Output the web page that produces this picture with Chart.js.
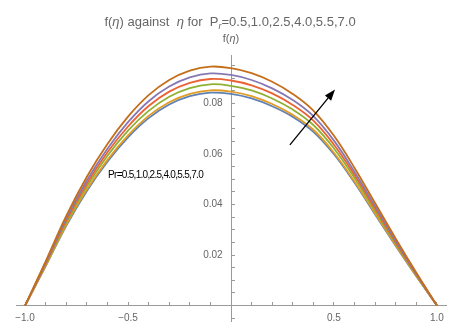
<!DOCTYPE html>
<html lang="en">
<head>
    <meta charset="UTF-8">
    <title>f(η) against η</title>
    <script src="https://cdn.jsdelivr.net/npm/chart.js"></script>
    <style>
        body {
            margin: 0;
            padding: 0;
            background-color: #ffffff;
        }

        .chart-container {
            width: 456px;
            height: 322px;
            position: relative;
        }
    </style>
</head>
<body>
    <div class="chart-container">
        <canvas id="etaChart"></canvas>
    </div>

    <script>
        // eta values (x axis) and f(eta) for each Pr
        const eta = [-1, -0.9, -0.8, -0.7, -0.6, -0.5, -0.4, -0.3, -0.2, -0.1, 0, 0.1, 0.2, 0.3, 0.4, 0.5, 0.6, 0.7, 0.8, 0.9, 1];
        const pr05 = [0, 0.0156, 0.0316, 0.0454, 0.0570, 0.0666, 0.0742, 0.0796, 0.0829, 0.0843, 0.0838, 0.0820, 0.0789, 0.0747, 0.0688, 0.0599, 0.0486, 0.0361, 0.0236, 0.0116, 0];
        const pr10 = [0, 0.0158, 0.0320, 0.0460, 0.0577, 0.0674, 0.0751, 0.0805, 0.0838, 0.0852, 0.0847, 0.0829, 0.0798, 0.0755, 0.0696, 0.0605, 0.0491, 0.0365, 0.0239, 0.0117, 0];
        const pr25 = [0, 0.0162, 0.0329, 0.0472, 0.0593, 0.0693, 0.0771, 0.0827, 0.0861, 0.0876, 0.0870, 0.0852, 0.0820, 0.0776, 0.0715, 0.0622, 0.0505, 0.0375, 0.0245, 0.0120, 0];
        const pr40 = [0, 0.0166, 0.0337, 0.0483, 0.0607, 0.0709, 0.0790, 0.0847, 0.0882, 0.0897, 0.0891, 0.0872, 0.0840, 0.0794, 0.0732, 0.0637, 0.0517, 0.0384, 0.0251, 0.0123, 0];
        const pr55 = [0, 0.0170, 0.0345, 0.0495, 0.0621, 0.0726, 0.0809, 0.0867, 0.0903, 0.0919, 0.0913, 0.0893, 0.0860, 0.0814, 0.0750, 0.0653, 0.0529, 0.0393, 0.0257, 0.0126, 0];
        const pr70 = [0, 0.0175, 0.0355, 0.0510, 0.0640, 0.0748, 0.0833, 0.0893, 0.0930, 0.0946, 0.0940, 0.0920, 0.0886, 0.0838, 0.0772, 0.0672, 0.0545, 0.0405, 0.0265, 0.0130, 0];
        const prNames = ['0.5', '1.0', '2.5', '4.0', '5.5', '7.0'];

        // tick values and labels
        const xTickValues = [-1, -0.9, -0.8, -0.7, -0.6, -0.5, -0.4, -0.3, -0.2, -0.1, 0.1, 0.2, 0.3, 0.4, 0.5, 0.6, 0.7, 0.8, 0.9, 1];
        const xLabelValues = [-1, -0.5, 0.5, 1];
        const xLabelTexts = ['\u22121.0', '\u22120.5', '0.5', '1.0'];
        const yTickValues = [-0.005, 0.005, 0.01, 0.015, 0.02, 0.025, 0.03, 0.035, 0.04, 0.045, 0.05, 0.055, 0.06, 0.065, 0.07, 0.075, 0.08, 0.085, 0.09, 0.095];
        const yLabelValues = [0.02, 0.04, 0.06, 0.08];
        const yLabelTexts = ['0.02', '0.04', '0.06', '0.08'];

        // Mathematica default colours
        const colors = ['#5E81B5', '#E19C24', '#8FB032', '#EB6235', '#8778B3', '#C56E1A'];
        const series = [pr05, pr10, pr25, pr40, pr55, pr70];

        const datasets = series.map((values, index) => ({
            label: 'Pr=' + prNames[index],
            data: eta.map((x, i) => ({ x: x, y: values[i] })),
            borderColor: colors[index],
            backgroundColor: colors[index],
            borderWidth: 1.8,
            pointRadius: 0,
            fill: false,
            tension: 0.4,
            order: series.length - index
        }));

        function findLabel(values, texts, v) {
            for (let i = 0; i < values.length; i++) {
                if (Math.abs(values[i] - v) < 1e-9) return texts[i];
            }
            return '';
        }

        // title, axis label, annotation and arrow
        const extras = {
            id: 'extras',
            afterDraw(chart) {
                const ctx = chart.ctx;
                const xs = chart.scales.x, ys = chart.scales.y;
                ctx.save();

                // title with italic eta and subscript r
                const parts = [
                    { t: 'f(', f: '13px "Liberation Sans"' },
                    { t: '\u03b7', f: 'italic 13px "Liberation Sans"' },
                    { t: ') against  ', f: '13px "Liberation Sans"' },
                    { t: '\u03b7', f: 'italic 13px "Liberation Sans"' },
                    { t: ' for  P', f: '13px "Liberation Sans"' },
                    { t: 'r', f: 'italic 9px "Liberation Sans"', dy: 3 },
                    { t: '=0.5,1.0,2.5,4.0,5.5,7.0', f: '13px "Liberation Sans"' }
                ];
                let total = 0;
                parts.forEach(p => { ctx.font = p.f; p.w = ctx.measureText(p.t).width; total += p.w; });
                let x = 230 - total / 2;
                ctx.fillStyle = '#666';
                ctx.textBaseline = 'alphabetic';
                ctx.textAlign = 'left';
                parts.forEach(p => {
                    ctx.font = p.f;
                    ctx.fillText(p.t, x, 26 + (p.dy || 0));
                    x += p.w;
                });

                // y axis label
                const yl = [
                    { t: 'f(', f: '11px "Liberation Sans"' },
                    { t: '\u03b7', f: 'italic 11px "Liberation Sans"' },
                    { t: ')', f: '11px "Liberation Sans"' }
                ];
                total = 0;
                yl.forEach(p => { ctx.font = p.f; p.w = ctx.measureText(p.t).width; total += p.w; });
                x = xs.getPixelForValue(0) - total / 2;
                yl.forEach(p => {
                    ctx.font = p.f;
                    ctx.fillText(p.t, x, 42);
                    x += p.w;
                });

                // annotation text
                ctx.fillStyle = '#000';
                ctx.font = '10px "Liberation Sans"';
                ctx.letterSpacing = '-0.7px';
                ctx.fillText('Pr=' + prNames.join(','), xs.getPixelForValue(-0.597), ys.getPixelForValue(0.0505));
                ctx.letterSpacing = '0px';

                // arrow
                const x1 = xs.getPixelForValue(0.286), y1 = ys.getPixelForValue(0.0636);
                const x2 = xs.getPixelForValue(0.505), y2 = ys.getPixelForValue(0.0855);
                const ang = Math.atan2(y2 - y1, x2 - x1);
                const head = 11, half = 4;
                ctx.strokeStyle = '#000';
                ctx.lineWidth = 1.3;
                ctx.beginPath();
                ctx.moveTo(x1, y1);
                ctx.lineTo(x2 - head * Math.cos(ang), y2 - head * Math.sin(ang));
                ctx.stroke();
                ctx.beginPath();
                ctx.moveTo(x2, y2);
                ctx.lineTo(x2 - head * Math.cos(ang) + half * Math.sin(ang), y2 - head * Math.sin(ang) - half * Math.cos(ang));
                ctx.lineTo(x2 - head * Math.cos(ang) - half * Math.sin(ang), y2 - head * Math.sin(ang) + half * Math.cos(ang));
                ctx.closePath();
                ctx.fillStyle = '#000';
                ctx.fill();
                ctx.restore();
            }
        };

        const ctx = document.getElementById('etaChart').getContext('2d');
        const etaChart = new Chart(ctx, {
            type: 'line',
            data: { datasets: datasets },
            options: {
                responsive: true,
                maintainAspectRatio: false,
                animation: false,
                layout: {
                    padding: { top: 55, left: 16, right: 10, bottom: 1 }
                },
                scales: {
                    x: {
                        type: 'linear',
                        min: -1.044,
                        max: 1.044,
                        position: { y: 0 },
                        afterBuildTicks: (scale) => { scale.ticks = xTickValues.map(v => ({ value: v })); },
                        border: { color: '#999', width: 1 },
                        // negative length: tick marks point up into the plot
                        grid: { drawOnChartArea: false, drawTicks: true, tickLength: -4, color: '#999' },
                        ticks: {
                            autoSkip: false,
                            maxRotation: 0,
                            padding: 11,
                            color: '#666',
                            font: { family: '"Liberation Sans"', size: 10 },
                            callback: (v) => findLabel(xLabelValues, xLabelTexts, v)
                        }
                    },
                    y: {
                        type: 'linear',
                        min: -0.0061,
                        max: 0.0992,
                        position: { x: 0 },
                        afterBuildTicks: (scale) => { scale.ticks = yTickValues.map(v => ({ value: v })); },
                        border: { color: '#999', width: 1 },
                        grid: { drawOnChartArea: false, drawTicks: true, tickLength: -4, color: '#999' },
                        ticks: {
                            autoSkip: false,
                            padding: 0,
                            color: '#666',
                            font: { family: '"Liberation Sans"', size: 10, lineHeight: 0.1 },
                            callback: (v) => {
                                const s = findLabel(yLabelValues, yLabelTexts, v);
                                return s ? s + '   ' : '';
                            }
                        }
                    }
                },
                plugins: {
                    legend: { display: false },
                    title: { display: false },
                    tooltip: { enabled: false }
                }
            },
            plugins: [extras]
        });
    </script>
</body>
</html>
